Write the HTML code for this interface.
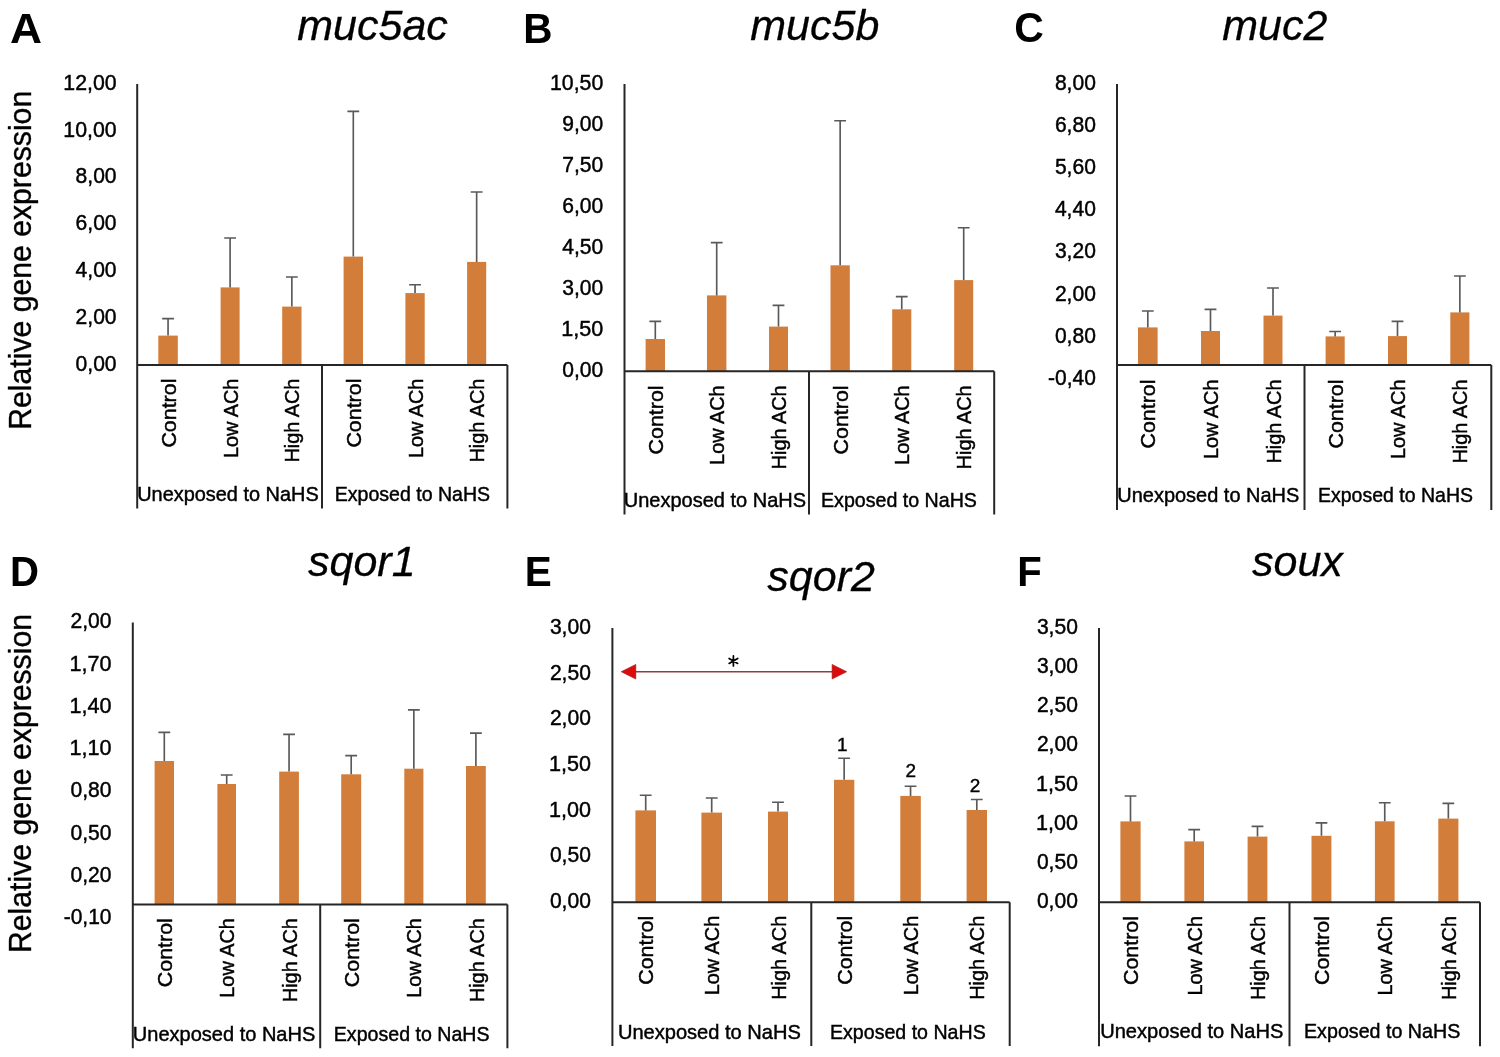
<!DOCTYPE html><html><head><meta charset="utf-8"><style>html,body{margin:0;padding:0;background:#fff;width:1500px;height:1057px;overflow:hidden}svg{display:block;will-change:transform}text{font-family:"Liberation Sans",sans-serif}.c{stroke:#000;stroke-width:0.45px}</style></head><body>
<svg width="1500" height="1057" viewBox="0 0 1500 1057">
<rect width="1500" height="1057" fill="#fff"/>
<g><text x="10.1" y="42.7" font-size="43" font-weight="bold" fill="#000" textLength="32" lengthAdjust="spacingAndGlyphs">A</text><text x="297.3" y="40" font-size="43" font-style="italic" style="stroke:#000;stroke-width:0.3px" fill="#000">muc5ac</text><text transform="translate(31.4,429.8) rotate(-90)" font-size="30.5" textLength="339" lengthAdjust="spacingAndGlyphs" style="stroke:#000;stroke-width:0.35px" fill="#000">Relative gene expression</text><text x="116.6" y="89.8" font-size="22" class="c" text-anchor="end" textLength="53.3" lengthAdjust="spacingAndGlyphs" fill="#000">12,00</text><text x="116.6" y="136.62" font-size="22" class="c" text-anchor="end" textLength="53.3" lengthAdjust="spacingAndGlyphs" fill="#000">10,00</text><text x="116.6" y="183.43" font-size="22" class="c" text-anchor="end" textLength="41" lengthAdjust="spacingAndGlyphs" fill="#000">8,00</text><text x="116.6" y="230.25" font-size="22" class="c" text-anchor="end" textLength="41" lengthAdjust="spacingAndGlyphs" fill="#000">6,00</text><text x="116.6" y="277.07" font-size="22" class="c" text-anchor="end" textLength="41" lengthAdjust="spacingAndGlyphs" fill="#000">4,00</text><text x="116.6" y="323.88" font-size="22" class="c" text-anchor="end" textLength="41" lengthAdjust="spacingAndGlyphs" fill="#000">2,00</text><text x="116.6" y="370.7" font-size="22" class="c" text-anchor="end" textLength="41" lengthAdjust="spacingAndGlyphs" fill="#000">0,00</text><rect x="158.3" y="335.6" width="19.5" height="29.3" fill="#D37D3A"/><rect x="220.6" y="287.4" width="19" height="77.5" fill="#D37D3A"/><rect x="282.2" y="306.6" width="19.3" height="58.3" fill="#D37D3A"/><rect x="343.6" y="256.6" width="19.4" height="108.3" fill="#D37D3A"/><rect x="405.4" y="293.1" width="19.3" height="71.8" fill="#D37D3A"/><rect x="467.1" y="261.9" width="19.1" height="103" fill="#D37D3A"/><path d="M168.05 335.6V318.6M162.15 318.6H173.95" stroke="#595959" stroke-width="1.65" fill="none"/><path d="M230.1 287.4V238M224.2 238H236" stroke="#595959" stroke-width="1.65" fill="none"/><path d="M291.85 306.6V277M285.95 277H297.75" stroke="#595959" stroke-width="1.65" fill="none"/><path d="M353.3 256.6V111.4M347.4 111.4H359.2" stroke="#595959" stroke-width="1.65" fill="none"/><path d="M415.05 293.1V284.7M409.15 284.7H420.95" stroke="#595959" stroke-width="1.65" fill="none"/><path d="M476.65 261.9V192M470.75 192H482.55" stroke="#595959" stroke-width="1.65" fill="none"/><path d="M137.2 84V508.4M137.2 364.9H507.4M322 364.9V508.4M507.4 364.9V508.4" stroke="#262626" stroke-width="2" fill="none"/><text transform="translate(175.65,378.6) rotate(-90)" font-size="21" class="c" text-anchor="end" textLength="69" lengthAdjust="spacingAndGlyphs" fill="#000">Control</text><text transform="translate(237.7,378.6) rotate(-90)" font-size="21" class="c" text-anchor="end" textLength="79.5" lengthAdjust="spacingAndGlyphs" fill="#000">Low ACh</text><text transform="translate(299.45,378.6) rotate(-90)" font-size="21" class="c" text-anchor="end" textLength="84" lengthAdjust="spacingAndGlyphs" fill="#000">High ACh</text><text transform="translate(360.9,378.6) rotate(-90)" font-size="21" class="c" text-anchor="end" textLength="69" lengthAdjust="spacingAndGlyphs" fill="#000">Control</text><text transform="translate(422.65,378.6) rotate(-90)" font-size="21" class="c" text-anchor="end" textLength="79.5" lengthAdjust="spacingAndGlyphs" fill="#000">Low ACh</text><text transform="translate(484.25,378.6) rotate(-90)" font-size="21" class="c" text-anchor="end" textLength="84" lengthAdjust="spacingAndGlyphs" fill="#000">High ACh</text><text x="137.2" y="500.9" font-size="20.5" class="c" textLength="181.5" lengthAdjust="spacingAndGlyphs" fill="#000">Unexposed to NaHS</text><text x="334.7" y="500.9" font-size="20.5" class="c" textLength="155.4" lengthAdjust="spacingAndGlyphs" fill="#000">Exposed to NaHS</text></g>
<g><text x="523.3" y="42.8" font-size="43" font-weight="bold" fill="#000" textLength="29.2" lengthAdjust="spacingAndGlyphs">B</text><text x="750.3" y="40" font-size="43" font-style="italic" style="stroke:#000;stroke-width:0.3px" fill="#000">muc5b</text><text x="603.3" y="89.8" font-size="22" class="c" text-anchor="end" textLength="53.3" lengthAdjust="spacingAndGlyphs" fill="#000">10,50</text><text x="603.3" y="130.83" font-size="22" class="c" text-anchor="end" textLength="41" lengthAdjust="spacingAndGlyphs" fill="#000">9,00</text><text x="603.3" y="171.86" font-size="22" class="c" text-anchor="end" textLength="41" lengthAdjust="spacingAndGlyphs" fill="#000">7,50</text><text x="603.3" y="212.89" font-size="22" class="c" text-anchor="end" textLength="41" lengthAdjust="spacingAndGlyphs" fill="#000">6,00</text><text x="603.3" y="253.91" font-size="22" class="c" text-anchor="end" textLength="41" lengthAdjust="spacingAndGlyphs" fill="#000">4,50</text><text x="603.3" y="294.94" font-size="22" class="c" text-anchor="end" textLength="41" lengthAdjust="spacingAndGlyphs" fill="#000">3,00</text><text x="603.3" y="335.97" font-size="22" class="c" text-anchor="end" textLength="42" lengthAdjust="spacingAndGlyphs" fill="#000">1,50</text><text x="603.3" y="377" font-size="22" class="c" text-anchor="end" textLength="41" lengthAdjust="spacingAndGlyphs" fill="#000">0,00</text><rect x="645.6" y="339" width="19.4" height="32.2" fill="#D37D3A"/><rect x="707" y="295.4" width="19.4" height="75.8" fill="#D37D3A"/><rect x="769" y="326.6" width="19" height="44.6" fill="#D37D3A"/><rect x="830.5" y="265.3" width="19.3" height="105.9" fill="#D37D3A"/><rect x="892.2" y="309.3" width="19.1" height="61.9" fill="#D37D3A"/><rect x="954.2" y="280.1" width="19" height="91.1" fill="#D37D3A"/><path d="M655.3 339V321.4M649.4 321.4H661.2" stroke="#595959" stroke-width="1.65" fill="none"/><path d="M716.7 295.4V242.6M710.8 242.6H722.6" stroke="#595959" stroke-width="1.65" fill="none"/><path d="M778.5 326.6V305.4M772.6 305.4H784.4" stroke="#595959" stroke-width="1.65" fill="none"/><path d="M840.15 265.3V120.7M834.25 120.7H846.05" stroke="#595959" stroke-width="1.65" fill="none"/><path d="M901.75 309.3V296.6M895.85 296.6H907.65" stroke="#595959" stroke-width="1.65" fill="none"/><path d="M963.7 280.1V227.7M957.8 227.7H969.6" stroke="#595959" stroke-width="1.65" fill="none"/><path d="M624.5 84V514.6M624.5 371.2H994.2M809 371.2V514.6M994.2 371.2V514.6" stroke="#262626" stroke-width="2" fill="none"/><text transform="translate(662.9,385.4) rotate(-90)" font-size="21" class="c" text-anchor="end" textLength="69" lengthAdjust="spacingAndGlyphs" fill="#000">Control</text><text transform="translate(724.3,385.4) rotate(-90)" font-size="21" class="c" text-anchor="end" textLength="79.5" lengthAdjust="spacingAndGlyphs" fill="#000">Low ACh</text><text transform="translate(786.1,385.4) rotate(-90)" font-size="21" class="c" text-anchor="end" textLength="84" lengthAdjust="spacingAndGlyphs" fill="#000">High ACh</text><text transform="translate(847.75,385.4) rotate(-90)" font-size="21" class="c" text-anchor="end" textLength="69" lengthAdjust="spacingAndGlyphs" fill="#000">Control</text><text transform="translate(909.35,385.4) rotate(-90)" font-size="21" class="c" text-anchor="end" textLength="79.5" lengthAdjust="spacingAndGlyphs" fill="#000">Low ACh</text><text transform="translate(971.3,385.4) rotate(-90)" font-size="21" class="c" text-anchor="end" textLength="84" lengthAdjust="spacingAndGlyphs" fill="#000">High ACh</text><text x="623.8" y="506.9" font-size="20.5" class="c" textLength="182.3" lengthAdjust="spacingAndGlyphs" fill="#000">Unexposed to NaHS</text><text x="821" y="506.9" font-size="20.5" class="c" textLength="155.9" lengthAdjust="spacingAndGlyphs" fill="#000">Exposed to NaHS</text></g>
<g><text x="1014.3" y="42.3" font-size="43" font-weight="bold" fill="#000" textLength="29.6" lengthAdjust="spacingAndGlyphs">C</text><text x="1222.3" y="40" font-size="43" font-style="italic" style="stroke:#000;stroke-width:0.3px" fill="#000">muc2</text><text x="1095.9" y="89.8" font-size="22" class="c" text-anchor="end" textLength="41" lengthAdjust="spacingAndGlyphs" fill="#000">8,00</text><text x="1095.9" y="131.96" font-size="22" class="c" text-anchor="end" textLength="41" lengthAdjust="spacingAndGlyphs" fill="#000">6,80</text><text x="1095.9" y="174.13" font-size="22" class="c" text-anchor="end" textLength="41" lengthAdjust="spacingAndGlyphs" fill="#000">5,60</text><text x="1095.9" y="216.29" font-size="22" class="c" text-anchor="end" textLength="41" lengthAdjust="spacingAndGlyphs" fill="#000">4,40</text><text x="1095.9" y="258.45" font-size="22" class="c" text-anchor="end" textLength="41" lengthAdjust="spacingAndGlyphs" fill="#000">3,20</text><text x="1095.9" y="300.61" font-size="22" class="c" text-anchor="end" textLength="41" lengthAdjust="spacingAndGlyphs" fill="#000">2,00</text><text x="1095.9" y="342.78" font-size="22" class="c" text-anchor="end" textLength="41" lengthAdjust="spacingAndGlyphs" fill="#000">0,80</text><text x="1095.9" y="384.94" font-size="22" class="c" text-anchor="end" textLength="47.8" lengthAdjust="spacingAndGlyphs" fill="#000">-0,40</text><rect x="1138" y="327.4" width="19.6" height="37.7" fill="#D37D3A"/><rect x="1201" y="331" width="19" height="34.1" fill="#D37D3A"/><rect x="1263.5" y="315.6" width="19" height="49.5" fill="#D37D3A"/><rect x="1325.6" y="336.4" width="19.1" height="28.7" fill="#D37D3A"/><rect x="1388" y="336.1" width="19" height="29" fill="#D37D3A"/><rect x="1450.3" y="312.4" width="19.1" height="52.7" fill="#D37D3A"/><path d="M1147.8 327.4V311M1141.9 311H1153.7" stroke="#595959" stroke-width="1.65" fill="none"/><path d="M1210.5 331V309.4M1204.6 309.4H1216.4" stroke="#595959" stroke-width="1.65" fill="none"/><path d="M1273 315.6V288M1267.1 288H1278.9" stroke="#595959" stroke-width="1.65" fill="none"/><path d="M1335.15 336.4V331.5M1329.25 331.5H1341.05" stroke="#595959" stroke-width="1.65" fill="none"/><path d="M1397.5 336.1V321.4M1391.6 321.4H1403.4" stroke="#595959" stroke-width="1.65" fill="none"/><path d="M1459.85 312.4V276M1453.95 276H1465.75" stroke="#595959" stroke-width="1.65" fill="none"/><path d="M1117 84V510M1117 365.1H1491.3M1304.5 365.1V510M1491.3 365.1V510" stroke="#262626" stroke-width="2" fill="none"/><text transform="translate(1155.4,379.5) rotate(-90)" font-size="21" class="c" text-anchor="end" textLength="69" lengthAdjust="spacingAndGlyphs" fill="#000">Control</text><text transform="translate(1218.1,379.5) rotate(-90)" font-size="21" class="c" text-anchor="end" textLength="79.5" lengthAdjust="spacingAndGlyphs" fill="#000">Low ACh</text><text transform="translate(1280.6,379.5) rotate(-90)" font-size="21" class="c" text-anchor="end" textLength="84" lengthAdjust="spacingAndGlyphs" fill="#000">High ACh</text><text transform="translate(1342.75,379.5) rotate(-90)" font-size="21" class="c" text-anchor="end" textLength="69" lengthAdjust="spacingAndGlyphs" fill="#000">Control</text><text transform="translate(1405.1,379.5) rotate(-90)" font-size="21" class="c" text-anchor="end" textLength="79.5" lengthAdjust="spacingAndGlyphs" fill="#000">Low ACh</text><text transform="translate(1467.45,379.5) rotate(-90)" font-size="21" class="c" text-anchor="end" textLength="84" lengthAdjust="spacingAndGlyphs" fill="#000">High ACh</text><text x="1117.3" y="501.6" font-size="20.5" class="c" textLength="182" lengthAdjust="spacingAndGlyphs" fill="#000">Unexposed to NaHS</text><text x="1318" y="501.6" font-size="20.5" class="c" textLength="155" lengthAdjust="spacingAndGlyphs" fill="#000">Exposed to NaHS</text></g>
<g><text x="9.9" y="586.2" font-size="43" font-weight="bold" fill="#000" textLength="29" lengthAdjust="spacingAndGlyphs">D</text><text x="308" y="576" font-size="43" font-style="italic" style="stroke:#000;stroke-width:0.3px" fill="#000">sqor1</text><text transform="translate(31.4,953) rotate(-90)" font-size="30.5" textLength="339" lengthAdjust="spacingAndGlyphs" style="stroke:#000;stroke-width:0.35px" fill="#000">Relative gene expression</text><text x="111.5" y="628.2" font-size="22" class="c" text-anchor="end" textLength="41" lengthAdjust="spacingAndGlyphs" fill="#000">2,00</text><text x="111.5" y="670.5" font-size="22" class="c" text-anchor="end" textLength="42" lengthAdjust="spacingAndGlyphs" fill="#000">1,70</text><text x="111.5" y="712.8" font-size="22" class="c" text-anchor="end" textLength="42" lengthAdjust="spacingAndGlyphs" fill="#000">1,40</text><text x="111.5" y="755.09" font-size="22" class="c" text-anchor="end" textLength="42" lengthAdjust="spacingAndGlyphs" fill="#000">1,10</text><text x="111.5" y="797.39" font-size="22" class="c" text-anchor="end" textLength="41" lengthAdjust="spacingAndGlyphs" fill="#000">0,80</text><text x="111.5" y="839.69" font-size="22" class="c" text-anchor="end" textLength="41" lengthAdjust="spacingAndGlyphs" fill="#000">0,50</text><text x="111.5" y="881.99" font-size="22" class="c" text-anchor="end" textLength="41" lengthAdjust="spacingAndGlyphs" fill="#000">0,20</text><text x="111.5" y="924.29" font-size="22" class="c" text-anchor="end" textLength="47.8" lengthAdjust="spacingAndGlyphs" fill="#000">-0,10</text><rect x="154.6" y="761" width="19.4" height="143.4" fill="#D37D3A"/><rect x="217.4" y="784" width="18.6" height="120.4" fill="#D37D3A"/><rect x="279.2" y="771.6" width="19.7" height="132.8" fill="#D37D3A"/><rect x="341.2" y="774.3" width="20" height="130.1" fill="#D37D3A"/><rect x="404.3" y="768.7" width="19.1" height="135.7" fill="#D37D3A"/><rect x="466" y="766" width="19.8" height="138.4" fill="#D37D3A"/><path d="M164.3 761V732.4M158.4 732.4H170.2" stroke="#595959" stroke-width="1.65" fill="none"/><path d="M226.7 784V775M220.8 775H232.6" stroke="#595959" stroke-width="1.65" fill="none"/><path d="M289.05 771.6V734.3M283.15 734.3H294.95" stroke="#595959" stroke-width="1.65" fill="none"/><path d="M351.2 774.3V755.6M345.3 755.6H357.1" stroke="#595959" stroke-width="1.65" fill="none"/><path d="M413.85 768.7V709.8M407.95 709.8H419.75" stroke="#595959" stroke-width="1.65" fill="none"/><path d="M475.9 766V733.1M470 733.1H481.8" stroke="#595959" stroke-width="1.65" fill="none"/><path d="M132.8 622.4V1048.2M132.8 904.4H507.4M320.2 904.4V1048.2M507.4 904.4V1048.2" stroke="#262626" stroke-width="2" fill="none"/><text transform="translate(171.9,918.2) rotate(-90)" font-size="21" class="c" text-anchor="end" textLength="69" lengthAdjust="spacingAndGlyphs" fill="#000">Control</text><text transform="translate(234.3,918.2) rotate(-90)" font-size="21" class="c" text-anchor="end" textLength="79.5" lengthAdjust="spacingAndGlyphs" fill="#000">Low ACh</text><text transform="translate(296.65,918.2) rotate(-90)" font-size="21" class="c" text-anchor="end" textLength="84" lengthAdjust="spacingAndGlyphs" fill="#000">High ACh</text><text transform="translate(358.8,918.2) rotate(-90)" font-size="21" class="c" text-anchor="end" textLength="69" lengthAdjust="spacingAndGlyphs" fill="#000">Control</text><text transform="translate(421.45,918.2) rotate(-90)" font-size="21" class="c" text-anchor="end" textLength="79.5" lengthAdjust="spacingAndGlyphs" fill="#000">Low ACh</text><text transform="translate(483.5,918.2) rotate(-90)" font-size="21" class="c" text-anchor="end" textLength="84" lengthAdjust="spacingAndGlyphs" fill="#000">High ACh</text><text x="132.8" y="1041.1" font-size="20.5" class="c" textLength="182.5" lengthAdjust="spacingAndGlyphs" fill="#000">Unexposed to NaHS</text><text x="333.8" y="1041.1" font-size="20.5" class="c" textLength="155.7" lengthAdjust="spacingAndGlyphs" fill="#000">Exposed to NaHS</text></g>
<g><text x="524.7" y="586" font-size="43" font-weight="bold" fill="#000" textLength="27" lengthAdjust="spacingAndGlyphs">E</text><text x="767.3" y="590.6" font-size="43" font-style="italic" style="stroke:#000;stroke-width:0.3px" fill="#000">sqor2</text><text x="590.9" y="633.8" font-size="22" class="c" text-anchor="end" textLength="41" lengthAdjust="spacingAndGlyphs" fill="#000">3,00</text><text x="590.9" y="679.52" font-size="22" class="c" text-anchor="end" textLength="41" lengthAdjust="spacingAndGlyphs" fill="#000">2,50</text><text x="590.9" y="725.23" font-size="22" class="c" text-anchor="end" textLength="41" lengthAdjust="spacingAndGlyphs" fill="#000">2,00</text><text x="590.9" y="770.95" font-size="22" class="c" text-anchor="end" textLength="42" lengthAdjust="spacingAndGlyphs" fill="#000">1,50</text><text x="590.9" y="816.67" font-size="22" class="c" text-anchor="end" textLength="42" lengthAdjust="spacingAndGlyphs" fill="#000">1,00</text><text x="590.9" y="862.38" font-size="22" class="c" text-anchor="end" textLength="41" lengthAdjust="spacingAndGlyphs" fill="#000">0,50</text><text x="590.9" y="908.1" font-size="22" class="c" text-anchor="end" textLength="41" lengthAdjust="spacingAndGlyphs" fill="#000">0,00</text><rect x="635.4" y="810.4" width="20.6" height="91.9" fill="#D37D3A"/><rect x="701.4" y="812.6" width="20.6" height="89.7" fill="#D37D3A"/><rect x="768" y="811.6" width="20" height="90.7" fill="#D37D3A"/><rect x="834" y="779.8" width="20.3" height="122.5" fill="#D37D3A"/><rect x="900.3" y="795.9" width="20.5" height="106.4" fill="#D37D3A"/><rect x="966.6" y="810" width="20.4" height="92.3" fill="#D37D3A"/><path d="M645.7 810.4V795.2M639.8 795.2H651.6" stroke="#595959" stroke-width="1.65" fill="none"/><path d="M711.7 812.6V798M705.8 798H717.6" stroke="#595959" stroke-width="1.65" fill="none"/><path d="M778 811.6V802.2M772.1 802.2H783.9" stroke="#595959" stroke-width="1.65" fill="none"/><path d="M844.15 779.8V758.2M838.25 758.2H850.05" stroke="#595959" stroke-width="1.65" fill="none"/><path d="M910.55 795.9V786.2M904.65 786.2H916.45" stroke="#595959" stroke-width="1.65" fill="none"/><path d="M976.8 810V799.5M970.9 799.5H982.7" stroke="#595959" stroke-width="1.65" fill="none"/><path d="M612.4 628V1046M612.4 902.3H1009.7M811.3 902.3V1046M1009.7 902.3V1046" stroke="#262626" stroke-width="2" fill="none"/><text transform="translate(653.3,915.8) rotate(-90)" font-size="21" class="c" text-anchor="end" textLength="69" lengthAdjust="spacingAndGlyphs" fill="#000">Control</text><text transform="translate(719.3,915.8) rotate(-90)" font-size="21" class="c" text-anchor="end" textLength="79.5" lengthAdjust="spacingAndGlyphs" fill="#000">Low ACh</text><text transform="translate(785.6,915.8) rotate(-90)" font-size="21" class="c" text-anchor="end" textLength="84" lengthAdjust="spacingAndGlyphs" fill="#000">High ACh</text><text transform="translate(851.75,915.8) rotate(-90)" font-size="21" class="c" text-anchor="end" textLength="69" lengthAdjust="spacingAndGlyphs" fill="#000">Control</text><text transform="translate(918.15,915.8) rotate(-90)" font-size="21" class="c" text-anchor="end" textLength="79.5" lengthAdjust="spacingAndGlyphs" fill="#000">Low ACh</text><text transform="translate(984.4,915.8) rotate(-90)" font-size="21" class="c" text-anchor="end" textLength="84" lengthAdjust="spacingAndGlyphs" fill="#000">High ACh</text><text x="617.9" y="1039.2" font-size="20.5" class="c" textLength="183" lengthAdjust="spacingAndGlyphs" fill="#000">Unexposed to NaHS</text><text x="830" y="1039.2" font-size="20.5" class="c" textLength="155.7" lengthAdjust="spacingAndGlyphs" fill="#000">Exposed to NaHS</text></g>
<g><text x="1017.3" y="586" font-size="43" font-weight="bold" fill="#000" textLength="24.5" lengthAdjust="spacingAndGlyphs">F</text><text x="1252" y="576" font-size="43" font-style="italic" style="stroke:#000;stroke-width:0.3px" fill="#000">soux</text><text x="1077.9" y="633.8" font-size="22" class="c" text-anchor="end" textLength="41" lengthAdjust="spacingAndGlyphs" fill="#000">3,50</text><text x="1077.9" y="672.99" font-size="22" class="c" text-anchor="end" textLength="41" lengthAdjust="spacingAndGlyphs" fill="#000">3,00</text><text x="1077.9" y="712.17" font-size="22" class="c" text-anchor="end" textLength="41" lengthAdjust="spacingAndGlyphs" fill="#000">2,50</text><text x="1077.9" y="751.36" font-size="22" class="c" text-anchor="end" textLength="41" lengthAdjust="spacingAndGlyphs" fill="#000">2,00</text><text x="1077.9" y="790.54" font-size="22" class="c" text-anchor="end" textLength="42" lengthAdjust="spacingAndGlyphs" fill="#000">1,50</text><text x="1077.9" y="829.73" font-size="22" class="c" text-anchor="end" textLength="42" lengthAdjust="spacingAndGlyphs" fill="#000">1,00</text><text x="1077.9" y="868.91" font-size="22" class="c" text-anchor="end" textLength="41" lengthAdjust="spacingAndGlyphs" fill="#000">0,50</text><text x="1077.9" y="908.1" font-size="22" class="c" text-anchor="end" textLength="41" lengthAdjust="spacingAndGlyphs" fill="#000">0,00</text><rect x="1120.4" y="821.4" width="20.2" height="80.9" fill="#D37D3A"/><rect x="1184.4" y="841.4" width="19.6" height="60.9" fill="#D37D3A"/><rect x="1247.6" y="836.6" width="19.8" height="65.7" fill="#D37D3A"/><rect x="1311.5" y="835.8" width="19.9" height="66.5" fill="#D37D3A"/><rect x="1374.9" y="821.3" width="19.7" height="81" fill="#D37D3A"/><rect x="1438.3" y="818.6" width="20.1" height="83.7" fill="#D37D3A"/><path d="M1130.5 821.4V796M1124.6 796H1136.4" stroke="#595959" stroke-width="1.65" fill="none"/><path d="M1194.2 841.4V829.6M1188.3 829.6H1200.1" stroke="#595959" stroke-width="1.65" fill="none"/><path d="M1257.5 836.6V826.4M1251.6 826.4H1263.4" stroke="#595959" stroke-width="1.65" fill="none"/><path d="M1321.45 835.8V822.8M1315.55 822.8H1327.35" stroke="#595959" stroke-width="1.65" fill="none"/><path d="M1384.75 821.3V802.7M1378.85 802.7H1390.65" stroke="#595959" stroke-width="1.65" fill="none"/><path d="M1448.35 818.6V803.3M1442.45 803.3H1454.25" stroke="#595959" stroke-width="1.65" fill="none"/><path d="M1099 628V1046.3M1099 902.3H1480M1289.5 902.3V1046.3M1480 902.3V1046.3" stroke="#262626" stroke-width="2" fill="none"/><text transform="translate(1138.1,916) rotate(-90)" font-size="21" class="c" text-anchor="end" textLength="69" lengthAdjust="spacingAndGlyphs" fill="#000">Control</text><text transform="translate(1201.8,916) rotate(-90)" font-size="21" class="c" text-anchor="end" textLength="79.5" lengthAdjust="spacingAndGlyphs" fill="#000">Low ACh</text><text transform="translate(1265.1,916) rotate(-90)" font-size="21" class="c" text-anchor="end" textLength="84" lengthAdjust="spacingAndGlyphs" fill="#000">High ACh</text><text transform="translate(1329.05,916) rotate(-90)" font-size="21" class="c" text-anchor="end" textLength="69" lengthAdjust="spacingAndGlyphs" fill="#000">Control</text><text transform="translate(1392.35,916) rotate(-90)" font-size="21" class="c" text-anchor="end" textLength="79.5" lengthAdjust="spacingAndGlyphs" fill="#000">Low ACh</text><text transform="translate(1455.95,916) rotate(-90)" font-size="21" class="c" text-anchor="end" textLength="84" lengthAdjust="spacingAndGlyphs" fill="#000">High ACh</text><text x="1100.2" y="1038.3" font-size="20.5" class="c" textLength="183.1" lengthAdjust="spacingAndGlyphs" fill="#000">Unexposed to NaHS</text><text x="1304" y="1038.3" font-size="20.5" class="c" textLength="156.3" lengthAdjust="spacingAndGlyphs" fill="#000">Exposed to NaHS</text></g>
<path d="M635 671.7H833" stroke="#8E3F3F" stroke-width="1.4" fill="none"/>
<path d="M621.2 671.7L635.8 664.4V679Z" fill="#DA0C0C" stroke="#A01818" stroke-width="0.6" stroke-linejoin="round"/>
<path d="M846.7 671.7L832.1 664.4V679Z" fill="#DA0C0C" stroke="#A01818" stroke-width="0.6" stroke-linejoin="round"/>
<path d="M733.4 655.9V665.9M729.1 658.4L737.7 663.4M729.1 663.4L737.7 658.4" stroke="#000" stroke-width="1.7" stroke-linecap="round" fill="none"/>
<text x="842.2" y="751.0" font-size="19" text-anchor="middle" class="c" style="stroke-width:0.4px" fill="#000">1</text>
<text x="910.7" y="777.2" font-size="19" text-anchor="middle" class="c" style="stroke-width:0.4px" fill="#000">2</text>
<text x="975.0" y="792.3" font-size="19" text-anchor="middle" class="c" style="stroke-width:0.4px" fill="#000">2</text>
</svg></body></html>
